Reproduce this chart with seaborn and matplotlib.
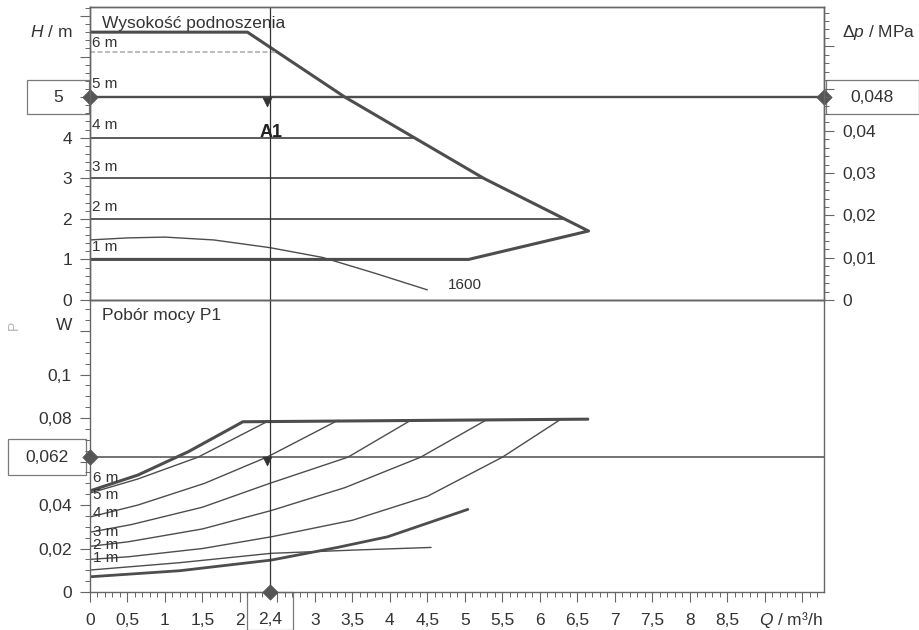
import pandas as pd
import seaborn as sns
import matplotlib.pyplot as plt
from matplotlib.patches import Rectangle
from matplotlib.ticker import MultipleLocator, FixedLocator, FuncFormatter

# --- dane ---
# wysokość podnoszenia: obwiednia (max / min)
q_max = [0, 2.1, 3.4, 5.25, 6.65, 5.05, 0]
h_max = [6.6, 6.6, 5.0, 3.0, 1.7, 1.0, 1.0]

# linie stałego ciśnienia (poziom, koniec na obwiedni)
set_h = [2, 3, 4]
set_end = [6.33, 5.25, 4.33]
h6_level = 6.1
h6_end = 2.5
set_labels = ["6 m", "5 m", "4 m", "3 m", "2 m", "1 m"]
set_label_h = [6.33, 5.32, 4.31, 3.28, 2.29, 1.30]

# charakterystyka 1600
q_1600 = [0, 0.5, 1.0, 1.65, 2.4, 3.1, 3.8, 4.5]
h_1600 = [1.48, 1.53, 1.55, 1.48, 1.29, 1.05, 0.66, 0.25]

# punkt pracy A1
q_op = 2.4
h_op = 5
dp_op = 0.048
p_op = 0.062

# pobór mocy P1
q_pmax = [0, 0.64, 1.31, 2.04, 6.64]
p_pmax = [0.0465, 0.0538, 0.0645, 0.0783, 0.0795]
q_p6 = [0, 0.64, 1.44, 2.37]
p_p6 = [0.0455, 0.052, 0.062, 0.0785]
q_p5 = [0, 0.64, 1.53, 2.37, 3.31]
p_p5 = [0.0345, 0.040, 0.050, 0.0622, 0.079]
q_p4 = [0, 0.55, 1.5, 2.4, 3.44, 4.28]
p_p4 = [0.0275, 0.031, 0.039, 0.050, 0.062, 0.079]
q_p3 = [0, 0.51, 1.5, 2.42, 3.4, 4.41, 5.28]
p_p3 = [0.021, 0.0231, 0.029, 0.0375, 0.048, 0.062, 0.079]
q_p2 = [0, 0.51, 1.5, 2.42, 3.5, 4.5, 5.5, 6.26]
p_p2 = [0.0150, 0.0162, 0.020, 0.0254, 0.033, 0.044, 0.062, 0.079]
q_p1 = [0, 1.2, 2.42, 3.3, 3.97, 5.04]
p_p1 = [0.0070, 0.0098, 0.0147, 0.0205, 0.0254, 0.038]
q_p1600 = [0, 1.2, 2.42, 3.53, 4.55]
p_p1600 = [0.0101, 0.0135, 0.0178, 0.0193, 0.0205]
p_label_y = [0.0524, 0.0446, 0.0363, 0.0276, 0.0216, 0.0156]

x_ticks_lab = [0, 0.5, 1, 1.5, 2, 3, 3.5, 4, 4.5, 5, 5.5, 6, 6.5, 7, 7.5, 8, 8.5]
h_ticks_lab = [0, 1, 2, 3, 4]
dp_ticks_lab = [0, 0.01, 0.02, 0.03, 0.04]
p_ticks_lab = [0, 0.02, 0.04, 0.08, 0.1]

sns.set_style("ticks")
plt.rcParams['font.family'] = ['Liberation Sans', 'DejaVu Sans']
plt.rcParams['mathtext.fontset'] = 'custom'
plt.rcParams['mathtext.it'] = 'Liberation Sans:italic'
plt.rcParams['mathtext.rm'] = 'Liberation Sans'

INK = '#333333'
LINE = '#4d4d4d'
FRAME = '#666666'
FS = 12.5

X_MAX = 9.79
H_TOP = 7.22
P_TOP = 0.1343
DP_PER_M = 0.0096


def comma(v, _=None):
    return f"{v:g}".replace('.', ',')


def curve(ax, q, y, lw, color=LINE, ls='-'):
    sns.lineplot(x=q, y=y, ax=ax, sort=False, estimator=None,
                 color=color, lw=lw, ls=ls)


fig = plt.figure(figsize=(9.2, 6.3), dpi=100)
ax_h = fig.add_axes([0.0978, 0.5238, 0.7978, 0.4651])
ax_p = fig.add_axes([0.0978, 0.0603, 0.7978, 0.4635])
for ax in (ax_h, ax_p):
    ax.set_facecolor('none')

# ---------- górny wykres: wysokość podnoszenia ----------
curve(ax_h, q_max, h_max, 2.2)
for lvl, end in zip(set_h, set_end):
    curve(ax_h, [0, end], [lvl, lvl], 1.3)
curve(ax_h, [0, h6_end], [h6_level, h6_level], 1.2, color='#b0b0b0', ls=(0, (3, 1.5)))
curve(ax_h, q_1600, h_1600, 1.0)
ax_h.axhline(h_op, color=LINE, lw=1.7)
ax_h.axvline(q_op, color=INK, lw=0.9)

for txt, y in zip(set_labels, set_label_h):
    ax_h.text(0.03, y, txt, va='center', ha='left', fontsize=11, color=INK)
ax_h.text(0.16, 6.82, "Wysokość podnoszenia", va='center', ha='left', fontsize=FS, color=INK)
ax_h.text(q_op + 0.02, 4.12, "A1", va='center', ha='center', fontsize=FS + 0.5,
          color='#222222', fontweight='bold')
ax_h.text(4.78, 0.36, "1600", va='center', ha='left', fontsize=11, color=INK)
sns.scatterplot(x=[q_op - 0.04], y=[h_op - 0.12], ax=ax_h, marker='v', s=40,
                color=INK, edgecolor=INK, zorder=6)
sns.scatterplot(x=[0, X_MAX], y=[h_op, h_op], ax=ax_h, marker='D', s=60,
                color='#555555', edgecolor='#555555', clip_on=False, zorder=6)

ax_h.set_xlim(0, X_MAX)
ax_h.set_ylim(0, H_TOP)
ax_h.set_xlabel("")
ax_h.set_ylabel("")
ax_h.yaxis.set_major_locator(FixedLocator(list(range(0, 8))))
ax_h.yaxis.set_major_formatter(FuncFormatter(lambda v, _: comma(v) if v in h_ticks_lab else ""))
ax_h.yaxis.set_minor_locator(MultipleLocator(0.2))

ax_dp = ax_h.twinx()
ax_dp.set_facecolor('none')
ax_dp.set_ylim(0, H_TOP * DP_PER_M)
ax_dp.yaxis.set_major_locator(MultipleLocator(0.01))
ax_dp.yaxis.set_major_formatter(FuncFormatter(lambda v, _: comma(round(v, 3)) if round(v, 3) in dp_ticks_lab else ""))
ax_dp.yaxis.set_minor_locator(MultipleLocator(0.002))

# ---------- dolny wykres: pobór mocy ----------
curve(ax_p, q_pmax, p_pmax, 2.2)
curve(ax_p, q_p6, p_p6, 1.0)
curve(ax_p, q_p5, p_p5, 1.0)
curve(ax_p, q_p4, p_p4, 1.0)
curve(ax_p, q_p3, p_p3, 1.0)
curve(ax_p, q_p2, p_p2, 1.0)
curve(ax_p, q_p1, p_p1, 2.0)
curve(ax_p, q_p1600, p_p1600, 1.0)
ax_p.axhline(p_op, color=LINE, lw=1.1)
ax_p.axvline(q_op, color=INK, lw=0.9)

for txt, y in zip(set_labels, p_label_y):
    ax_p.text(0.04, y, txt, va='center', ha='left', fontsize=11, color=INK)
ax_p.text(0.16, 0.1274, "Pobór mocy P1", va='center', ha='left', fontsize=FS, color=INK)
sns.scatterplot(x=[q_op - 0.04], y=[p_op - 0.0017], ax=ax_p, marker='v', s=40,
                color=INK, edgecolor=INK, zorder=6)
sns.scatterplot(x=[0, q_op], y=[p_op, 0], ax=ax_p, marker='D', s=60,
                color='#555555', edgecolor='#555555', clip_on=False, zorder=6)

ax_p.set_xlim(0, X_MAX)
ax_p.set_ylim(0, P_TOP)
ax_p.set_xlabel("")
ax_p.set_ylabel("")
ax_p.xaxis.set_major_locator(MultipleLocator(0.5))
ax_p.xaxis.set_minor_locator(MultipleLocator(0.1))
ax_p.xaxis.set_major_formatter(FuncFormatter(lambda v, _: comma(v) if round(v, 2) in x_ticks_lab else ""))
ax_p.yaxis.set_major_locator(MultipleLocator(0.02))
ax_p.yaxis.set_major_formatter(FuncFormatter(lambda v, _: comma(round(v, 3)) if round(v, 3) in p_ticks_lab else ""))
ax_p.yaxis.set_minor_locator(MultipleLocator(0.005))

for ax in (ax_h, ax_p, ax_dp):
    for sp in ax.spines.values():
        sp.set_visible(True)
        sp.set_color(FRAME)
        sp.set_linewidth(1.0)
    ax.tick_params(which='major', direction='out', length=7, width=0.8,
                   color=FRAME, labelsize=FS, labelcolor=INK, pad=6)
    ax.tick_params(which='minor', direction='out', length=3.5, width=0.7, color=FRAME)
ax_p.tick_params(axis='x', which='major', pad=8)
ax_h.tick_params(axis='x', which='both', bottom=False, labelbottom=False)

# ---------- opisy osi ----------
W, HH = 920, 630
fig.text(72 / W, 1 - 32 / HH, "$H$ / m", ha='right', va='center', fontsize=FS, color=INK)
fig.text(842 / W, 1 - 33 / HH, "Δ$p$ / MPa", ha='left', va='center', fontsize=FS, color=INK)
fig.text(72 / W, 1 - 325 / HH, "W", ha='right', va='center', fontsize=FS, color=INK)
fig.text(14 / W, 1 - 325 / HH, "P", ha='center', va='center', fontsize=10,
         color='#b5b5b5', rotation=90)
fig.text(823 / W, 1 - 620 / HH, "$Q$ / m³/h", ha='right', va='center', fontsize=FS, color=INK)


# ---------- ramki z wartościami punktu pracy ----------
def value_box(ax, y_val, x0_px, x1_px, h_px, txt):
    y_disp = ax.transData.transform((0, y_val))[1]
    yc = y_disp / fig.dpi / fig.get_figheight()
    h = h_px / HH
    fig.add_artist(Rectangle((x0_px / W, yc - h / 2), (x1_px - x0_px) / W, h,
                             transform=fig.transFigure, fill=True, facecolor='white',
                             edgecolor='#7a7a7a', lw=0.9, zorder=-1))
    fig.text((x0_px + x1_px) / 2 / W, yc, txt, ha='center', va='center',
             fontsize=FS, color=INK, zorder=5)


value_box(ax_h, h_op, 27, 89, 34, comma(h_op))
value_box(ax_dp, dp_op, 826, 919, 34, comma(dp_op))
value_box(ax_p, p_op, 8, 86, 36, comma(p_op))

# ramka "2,4" pod osią Q
x_disp = ax_p.transData.transform((q_op, 0))[0]
xc = x_disp / fig.dpi / fig.get_figwidth()
fig.add_artist(Rectangle((xc - 23 / W, 0.0), 46 / W, 38 / HH, transform=fig.transFigure,
                         facecolor='white', edgecolor='#7a7a7a', lw=0.9, zorder=-1))
fig.text(xc, 1 - 619 / HH, comma(q_op), ha='center', va='center', fontsize=FS,
         color=INK, zorder=5)

plt.savefig("out.png", dpi=100)
